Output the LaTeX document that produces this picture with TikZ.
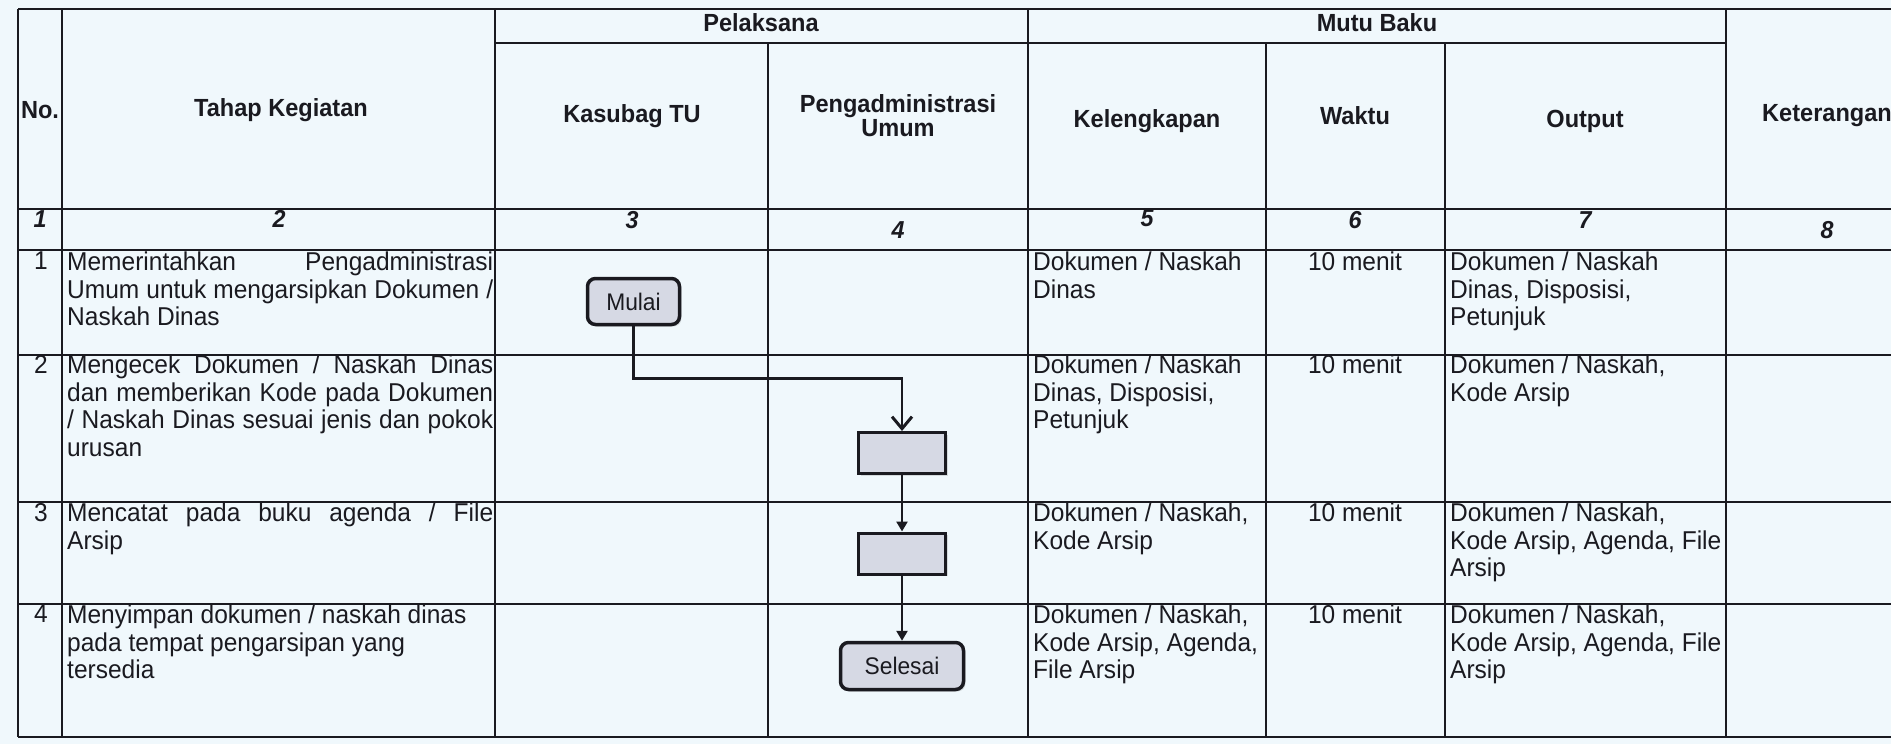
\documentclass[tikz,border=0pt]{standalone}
\usepackage{fontspec}
\setmainfont[FakeStretch=0.95]{Liberation Sans}
\usetikzlibrary{arrows.meta,shadows}

\definecolor{paper}{RGB}{240,248,252}
\definecolor{ink}{RGB}{26,26,32}
\definecolor{boxfill}{RGB}{214,217,228}

\tikzset{
	tabline/.style={line width=2.2pt, draw=ink},
	head/.style={font=\fontsize{24.8}{24}\selectfont\bfseries, text=ink, align=center},
	colnum/.style={font=\fontsize{24.5}{27}\selectfont\bfseries\itshape, text=ink},
	cell/.style={font=\fontsize{25.8}{27.5}\selectfont, text=ink, anchor=north west, inner sep=1pt},
	nocell/.style={font=\fontsize{25.8}{27.5}\selectfont, text=ink, anchor=north, inner sep=1pt},
	terminal/.style={draw=ink, line width=3.5pt, rounded corners=8pt, fill=boxfill,
		minimum width=92pt, minimum height=46pt, font=\fontsize{24}{26}\selectfont, text=ink,
		drop shadow={opacity=0.25, shadow xshift=2pt, shadow yshift=-2pt}},
	process/.style={draw=ink, line width=3pt, fill=boxfill, minimum width=87pt, minimum height=41pt,
		drop shadow={opacity=0.25, shadow xshift=2pt, shadow yshift=-2pt}},
	flow/.style={line width=2.5pt, draw=ink},
}

\begin{document}
\begin{tikzpicture}[x=1pt, y=-1pt]
	\useasboundingbox (0,0) rectangle (1891,744);
	\clip (0,0) rectangle (1891,744);
	\fill[paper] (0,0) rectangle (1891,744);

	% table rules
	\foreach \y in {9,209,250,355,502,604,737}
		\draw[tabline] (18,\y) -- (1928,\y);
	\draw[tabline] (495,43) -- (1726,43);
	\foreach \x in {18,62,495,1028,1726}
		\draw[tabline] (\x,9) -- (\x,737);
	\foreach \x in {768,1266,1445}
		\draw[tabline] (\x,43) -- (\x,737);

	% header
	\node[head] (hno) at (40,110) {No.};
	\node[head] (htahap) at (281,110) {Tahap Kegiatan};
	\node[head] (hpelaksana) at (761,23) {Pelaksana};
	\node[head] (hmutu) at (1377,23) {Mutu Baku};
	\node[head] (hkasubag) at (632,116) {Kasubag TU};
	\node[head] (hpengadm) at (898,116) {Pengadministrasi\\Umum};
	\node[head] (hlengkap) at (1147,121) {Kelengkapan};
	\node[head] (hwaktu) at (1355,116) {Waktu};
	\node[head] (houtput) at (1585,121) {Output};
	\node[head] (hket) at (1827,116) {Keterangan};

	\node[colnum] (k1) at (40,219) {1};
	\node[colnum] (k2) at (279,219) {2};
	\node[colnum] (k3) at (632,220) {3};
	\node[colnum] (k4) at (898,230) {4};
	\node[colnum] (k5) at (1147,218) {5};
	\node[colnum] (k6) at (1355,220) {6};
	\node[colnum] (k7) at (1585,220) {7};
	\node[colnum] (k8) at (1827,230) {8};

	% row 1
	\node[nocell] (n1) at (41,251) {1};
	\node[cell, text width=426pt, align=justify] (t1) at (66,251)
		{Memerintahkan Pengadministrasi\linebreak Umum untuk mengarsipkan Dokumen /\linebreak Naskah Dinas};
	\node[cell, align=left] (l1) at (1032,251) {Dokumen / Naskah\\Dinas};
	\node[nocell] (w1) at (1355,251) {10 menit};
	\node[cell, align=left] (o1) at (1449,251) {Dokumen / Naskah\\Dinas, Disposisi,\\Petunjuk};

	% row 2
	\node[nocell] (n2) at (41,354) {2};
	\node[cell, text width=426pt, align=justify] (t2) at (66,354)
		{Mengecek Dokumen / Naskah Dinas\linebreak dan memberikan Kode pada Dokumen\linebreak / Naskah Dinas sesuai jenis dan pokok\linebreak urusan};
	\node[cell, align=left] (l2) at (1032,354) {Dokumen / Naskah\\Dinas, Disposisi,\\Petunjuk};
	\node[nocell] (w2) at (1355,354) {10 menit};
	\node[cell, align=left] (o2) at (1449,354) {Dokumen / Naskah,\\Kode Arsip};

	% row 3
	\node[nocell] (n3) at (41,502) {3};
	\node[cell, text width=426pt, align=justify] (t3) at (66,502)
		{Mencatat pada buku agenda / File\linebreak Arsip};
	\node[cell, align=left] (l3) at (1032,502) {Dokumen / Naskah,\\Kode Arsip};
	\node[nocell] (w3) at (1355,502) {10 menit};
	\node[cell, align=left] (o3) at (1449,502) {Dokumen / Naskah,\\Kode Arsip, Agenda, File\\Arsip};

	% row 4
	\node[nocell] (n4) at (41,604) {4};
	\node[cell, align=left] (t4) at (66,604)
		{Menyimpan dokumen / naskah dinas\\pada tempat pengarsipan yang\\tersedia};
	\node[cell, align=left] (l4) at (1032,604) {Dokumen / Naskah,\\Kode Arsip, Agenda,\\File Arsip};
	\node[nocell] (w4) at (1355,604) {10 menit};
	\node[cell, align=left] (o4) at (1449,604) {Dokumen / Naskah,\\Kode Arsip, Agenda, File\\Arsip};

	% flow
	\node[terminal] (mulai) at (633.5,301.5) {Mulai};
	\node[process] (cek) at (902,453) {};
	\node[process] (catat) at (902,553.5) {};
	\node[terminal, minimum width=123pt, minimum height=47pt] (selesai) at (902,666) {Selesai};

	\draw[flow, -{Straight Barb[length=12pt, width=20pt, line width=3pt]}] (mulai.south) -- ++(0,52) -| (cek.north);
	\draw[flow, -{Triangle[length=10pt, width=11pt]}] (cek) -- (catat);
	\draw[flow, -{Triangle[length=10pt, width=11pt]}] (catat) -- (selesai);

\end{tikzpicture}
\end{document}
